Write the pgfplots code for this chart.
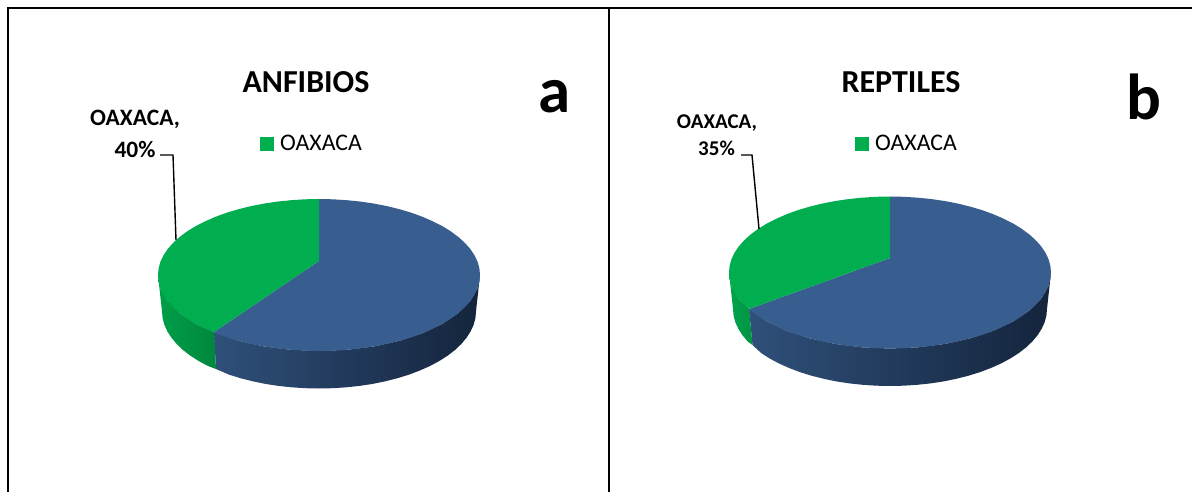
\documentclass[border=0pt]{standalone}
\usepackage{pgfplots}
\usepackage{fontspec}
\pgfplotsset{compat=1.18}
\setmainfont{Carlito}
\definecolor{pieblue}{RGB}{55,94,143}
\definecolor{piegreen}{RGB}{0,173,79}
\definecolor{sideA}{RGB}{47,80,122}
\definecolor{sideB}{RGB}{28,48,78}
\definecolor{sideC}{RGB}{20,36,60}
\newcommand{\fs}[1]{\fontsize{#1}{#1}\selectfont}
\pgfplotsset{
  pane/.style={
    scale only axis, hide axis, y dir=reverse, clip=false,
    height=492pt, anchor=south west,
    legend style={draw=none, fill=none, inner sep=0pt, anchor=west},
    legend image code/.code={\fill[piegreen] (0pt,-7pt) rectangle (14pt,7pt);},
  },
  face/.style={draw=none, fill=#1, forget plot},
  edge/.style={black, line width=1.4pt, forget plot},
}
\begin{document}
\begin{tikzpicture}[x=1pt,y=1pt]
\useasboundingbox (0pt,0pt) rectangle (1192pt,492pt);
% Left pie: amphibians, coordinates relative to the centre of the top ellipse
\begin{axis}[pane, at={(0pt,0pt)}, width=608pt,
    xmin=-319, xmax=289, ymin=-275, ymax=217,
    legend style={at={(axis cs:-59,-131)}, font=\fs{23.8}}]
  \addplot[forget plot, draw=none, shade, left color=sideA, middle color=sideB, right color=sideC] coordinates {
    (-105,57) (-80.5,65.8) (-55.1,71.4) (-27.9,74.8) (0,76) (27.9,74.8) (55.1,71.4) (80.5,65.8)
    (103.5,58.2) (123.3,48.9) (139.4,38) (151.3,26) (158.6,13.2) (161,0)
    (157,36.5) (156.4,43.2) (154.6,49.9) (151.6,56.4) (147.5,62.8) (142.3,69) (136,75) (128.6,80.7)
    (120.3,86) (111,91) (100.9,95.5) (90.1,99.6) (78.5,103.2) (66.3,106.3) (53.7,108.9) (40.6,110.9)
    (27.3,112.3) (13.7,113.2) (0,113.5) (-13.7,113.2) (-27.3,112.3) (-40.6,110.9) (-53.7,108.9)
    (-66.3,106.3) (-78.5,103.2) (-90.1,99.6) (-103,94)} --cycle;
  \addplot[forget plot, draw=none, shade, left color=piegreen!92!black, right color=piegreen!78!black] coordinates {
    (-161,0) (-158.6,13.2) (-151.3,26) (-139.4,38) (-123.3,48.9) (-105,57)
    (-103,94) (-111,91) (-120.3,86) (-128.6,80.7) (-136,75) (-142.3,69) (-147.5,62.8) (-151.6,56.4)
    (-154.6,49.9) (-156.4,43.2) (-157,36.5)} --cycle;
  \addplot[face=pieblue] coordinates {
    (0,-14) (0,-76) (14,-75.7) (27.9,-74.8) (41.7,-73.4) (55.1,-71.4) (68,-68.9) (80.5,-65.8) (92.3,-62.3)
    (103.5,-58.2) (113.8,-53.7) (123.3,-48.9) (131.9,-43.6) (139.4,-38) (145.9,-32.1) (151.3,-26)
    (155.5,-19.7) (158.6,-13.2) (160.4,-6.6) (161,0) (160.4,6.6) (158.6,13.2) (155.5,19.7) (151.3,26)
    (145.9,32.1) (139.4,38) (131.9,43.6) (123.3,48.9) (113.8,53.7) (103.5,58.2) (92.3,62.3) (80.5,65.8)
    (68,68.9) (55.1,71.4) (41.7,73.4) (27.9,74.8) (14,75.7) (0,76) (-14,75.7) (-27.9,74.8) (-41.7,73.4)
    (-55.1,71.4) (-68,68.9) (-80.5,65.8) (-92.3,62.3) (-105,57)} --cycle;
  \addplot[draw=none, fill=piegreen] coordinates {
    (0,-14) (0,-76) (-14,-75.7) (-27.9,-74.8) (-41.7,-73.4) (-55.1,-71.4) (-68,-68.9) (-80.5,-65.8) (-92.3,-62.3)
    (-103.5,-58.2) (-113.8,-53.7) (-123.3,-48.9) (-131.9,-43.6) (-139.4,-38) (-145.9,-32.1) (-151.3,-26)
    (-155.5,-19.7) (-158.6,-13.2) (-160.4,-6.6) (-161,0) (-160.4,6.6) (-158.6,13.2) (-155.5,19.7) (-151.3,26)
    (-145.9,32.1) (-139.4,38) (-131.9,43.6) (-123.3,48.9) (-113.8,53.7) (-105,57)} --cycle;
  \addlegendentry{\hspace*{4pt}OAXACA}
  \addplot[edge] coordinates {(-159,-120) (-146,-120) (-143,-35)};
  \node[font=\bfseries\fs{32}] at (axis cs:-13,-192.5) {ANFIBIOS};
  \node[font=\bfseries\fs{23.5}] at (axis cs:-184,-155.5) {OAXACA,};
  \node[font=\bfseries\fs{23.5}] at (axis cs:-184,-126) {40\%};
  \node[font=\bfseries\fs{65}] at (axis cs:236,-178) {a};
  % Panel frame
  \addplot[forget plot, black, line width=2pt] coordinates {(-311,217) (-311,-267) (289,-267)};
  \addplot[forget plot, black, line width=2pt] coordinates {(289.5,-267) (289.5,217)};
\end{axis}
% Right pie: reptiles, coordinates relative to the centre of the top ellipse
\begin{axis}[pane, at={(608pt,0pt)}, width=584pt,
    xmin=-282, xmax=302, ymin=-272.5, ymax=219.5,
    legend style={at={(axis cs:-35,-128.5)}, font=\fs{23.8}}]
  \addplot[forget plot, draw=none, shade, left color=sideA, middle color=sideB, right color=sideC] coordinates {
    (-141,36.5) (-123.3,48.9) (-103.5,58.2) (-80.5,65.8) (-55.1,71.4) (-27.9,74.8) (0,76) (27.9,74.8)
    (55.1,71.4) (80.5,65.8) (103.5,58.2) (123.3,48.9) (139.4,38) (151.3,26) (158.6,13.2) (161,0)
    (157,36.5) (156.4,43.2) (154.6,49.9) (151.6,56.4) (147.5,62.8) (142.3,69) (136,75) (128.6,80.7)
    (120.3,86) (111,91) (100.9,95.5) (90.1,99.6) (78.5,103.2) (66.3,106.3) (53.7,108.9) (40.6,110.9)
    (27.3,112.3) (13.7,113.2) (0,113.5) (-13.7,113.2) (-27.3,112.3) (-40.6,110.9) (-53.7,108.9)
    (-66.3,106.3) (-78.5,103.2) (-90.1,99.6) (-100.9,95.5) (-111,91) (-120.3,86) (-128.6,80.7) (-137.5,72.5)} --cycle;
  \addplot[forget plot, draw=none, shade, left color=piegreen!95!black, right color=piegreen!85!black] coordinates {
    (-161,0) (-158.6,13.2) (-151.3,26) (-141,36.5) (-137.5,72.5) (-142.3,69) (-147.5,62.8) (-151.6,56.4)
    (-154.6,49.9) (-156.4,43.2) (-157,36.5)} --cycle;
  \addplot[face=pieblue] coordinates {
    (0,-14.5) (0,-76) (14,-75.7) (27.9,-74.8) (41.7,-73.4) (55.1,-71.4) (68,-68.9) (80.5,-65.8) (92.3,-62.3)
    (103.5,-58.2) (113.8,-53.7) (123.3,-48.9) (131.9,-43.6) (139.4,-38) (145.9,-32.1) (151.3,-26)
    (155.5,-19.7) (158.6,-13.2) (160.4,-6.6) (161,0) (160.4,6.6) (158.6,13.2) (155.5,19.7) (151.3,26)
    (145.9,32.1) (139.4,38) (131.9,43.6) (123.3,48.9) (113.8,53.7) (103.5,58.2) (92.3,62.3) (80.5,65.8)
    (68,68.9) (55.1,71.4) (41.7,73.4) (27.9,74.8) (14,75.7) (0,76) (-14,75.7) (-27.9,74.8) (-41.7,73.4)
    (-55.1,71.4) (-68,68.9) (-80.5,65.8) (-92.3,62.3) (-103.5,58.2) (-113.8,53.7) (-123.3,48.9)
    (-131.9,43.6) (-141,36.5)} --cycle;
  \addplot[draw=none, fill=piegreen] coordinates {
    (0,-14.5) (0,-76) (-14,-75.7) (-27.9,-74.8) (-41.7,-73.4) (-55.1,-71.4) (-68,-68.9) (-80.5,-65.8) (-92.3,-62.3)
    (-103.5,-58.2) (-113.8,-53.7) (-123.3,-48.9) (-131.9,-43.6) (-139.4,-38) (-145.9,-32.1) (-151.3,-26)
    (-155.5,-19.7) (-158.6,-13.2) (-160.4,-6.6) (-161,0) (-160.4,6.6) (-158.6,13.2) (-155.5,19.7) (-151.3,26)
    (-145.9,32.1) (-141,36.5)} --cycle;
  \addlegendentry{\hspace*{4pt}OAXACA}
  \addplot[edge] coordinates {(-149,-117.5) (-138,-117.5) (-131,-43.5)};
  \node[font=\bfseries\fs{32}] at (axis cs:11,-190.5) {REPTILES};
  \node[font=\bfseries\fs{21}] at (axis cs:-173,-149) {OAXACA,};
  \node[font=\bfseries\fs{21}] at (axis cs:-173.5,-124) {35\%};
  \node[font=\bfseries\fs{65}] at (axis cs:254,-175.5) {b};
  % Panel frame
  \addplot[forget plot, black, line width=2pt] coordinates {(-282,-264.5) (302,-264.5)};
\end{axis}
\end{tikzpicture}
\end{document}
